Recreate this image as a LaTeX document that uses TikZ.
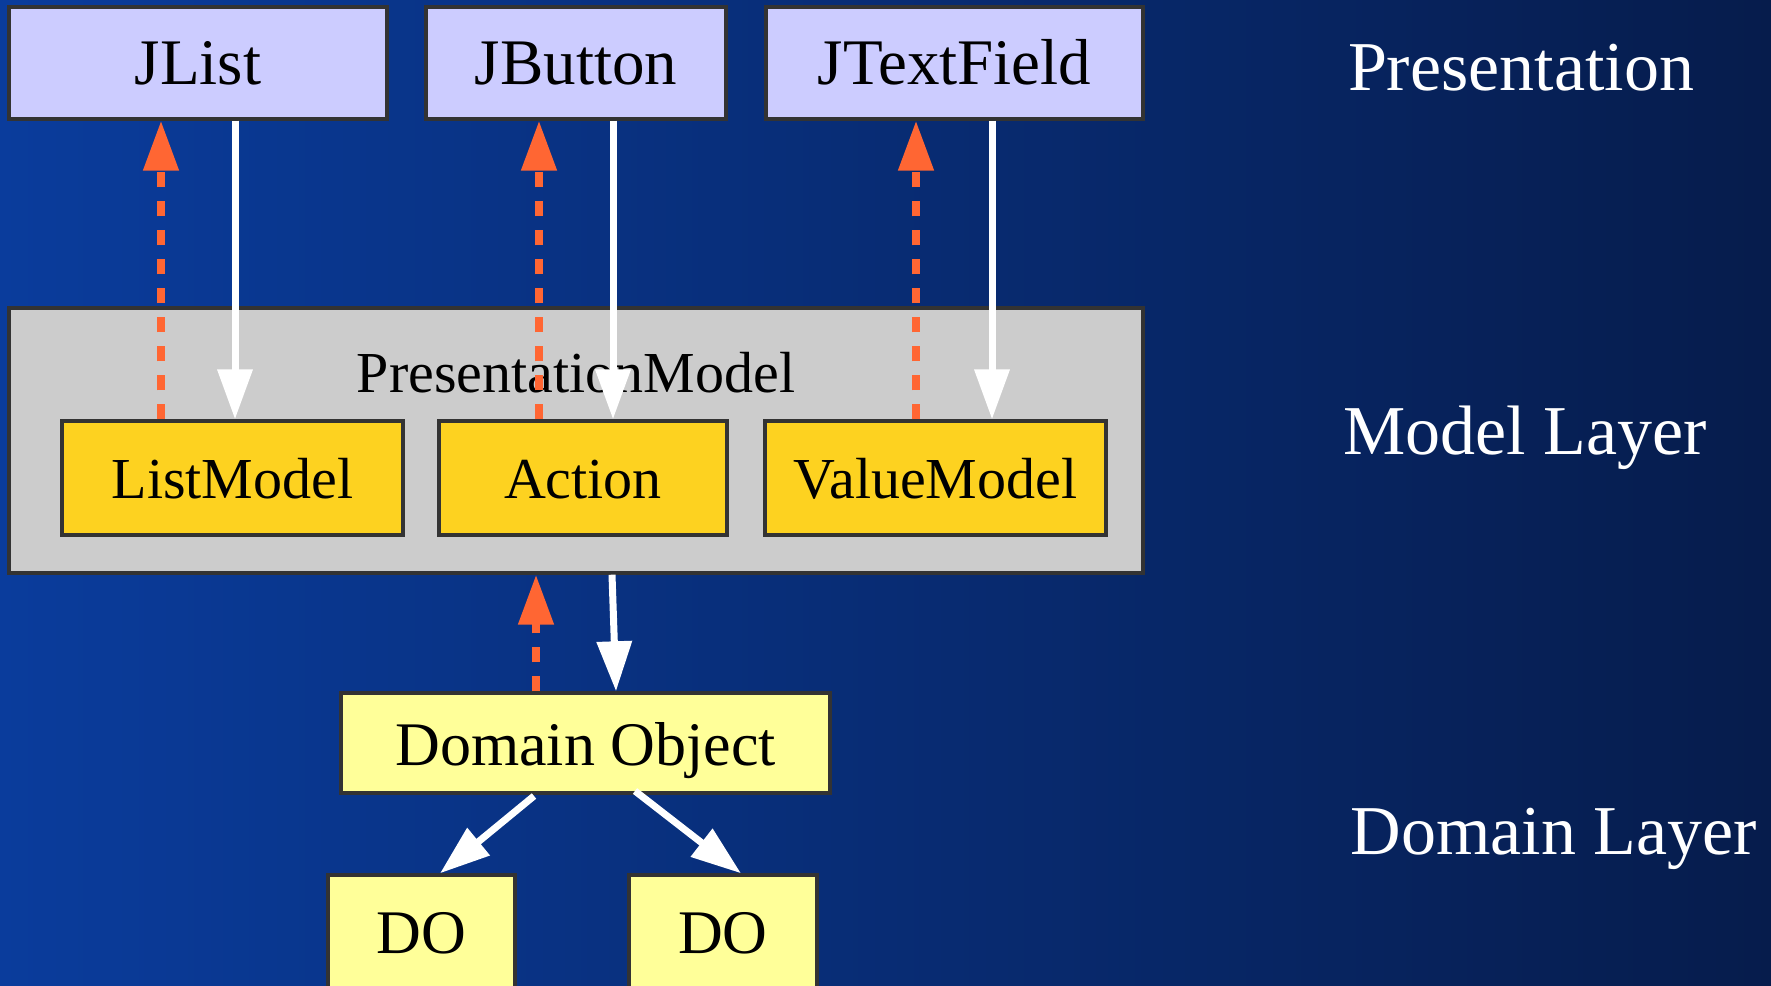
\documentclass[tikz,border=0pt]{standalone}
\usepackage{fontspec}
\setmainfont{Liberation Serif}
\usetikzlibrary{arrows.meta}
\definecolor{bgleft}{HTML}{0A3C9C}
\definecolor{bgright}{HTML}{061C4C}
\definecolor{boxline}{HTML}{333333}
\definecolor{swingfill}{HTML}{CCCCFF}
\definecolor{modelfill}{HTML}{FDD220}
\definecolor{domainfill}{HTML}{FFFF99}
\definecolor{pmfill}{HTML}{CCCCCC}
\definecolor{notify}{HTML}{FF6633}
\tikzset{
  basebox/.style={draw=boxline, line width=1.7pt, rectangle, inner sep=0pt, text=black, text depth=0pt},
  swingbox/.style={basebox, fill=swingfill, minimum height=56pt, text height=21.5pt, font=\fontsize{32.5}{36}\selectfont},
  modelbox/.style={basebox, fill=modelfill, minimum width=170.5pt, minimum height=57pt, text height=20pt, font=\fontsize{29}{32}\selectfont},
  domainbox/.style={basebox, fill=domainfill, text height=22pt, font=\fontsize{31}{34}\selectfont},
  layerlabel/.style={text=white, anchor=base, font=\fontsize{35}{38}\selectfont},
  callarrow/.style={draw=white, line width=3.5pt, -{Triangle[length=25pt,width=17pt]}},
  notifyarrow/.style={draw=notify, line width=4pt, dash pattern=on 7.5pt off 7pt, -{Triangle[length=25pt,width=17pt,fill=notify]}}
}
\begin{document}
\begin{tikzpicture}[x=0.5pt,y=-0.5pt]
\useasboundingbox (0,0) rectangle (1771,985);
\shade[left color=bgleft, right color=bgright] (0,0) rectangle (1771,985);

% presentation layer
\node[swingbox, minimum width=189pt] (jlist) at (198,63) {JList};
\node[swingbox, minimum width=150pt] (jbutton) at (576,63) {JButton};
\node[swingbox, minimum width=188.5pt] (jtext) at (954.5,63) {JTextField};

% model layer
\node[basebox, fill=pmfill, minimum width=567pt, minimum height=132.5pt] (pm) at (576,440.5) {};
\node[font=\fontsize{29}{32}\selectfont, text=black] (pmlabel) at (576,373) {PresentationModel};
\node[modelbox] (listmodel) at (232.5,478) {ListModel};
\node[modelbox, minimum width=144pt] (action) at (583,478) {Action};
\node[modelbox] (valuemodel) at (935.5,478) {ValueModel};

% domain layer
\node[domainbox, minimum width=244.5pt, minimum height=50pt] (domain) at (585.5,743) {Domain Object};
\node[domainbox, minimum width=93.5pt, minimum height=58pt, text height=20pt] (dol) at (421.5,933) {DO};
\node[domainbox, minimum width=94pt, minimum height=58pt, text height=20pt] (dor) at (723,933) {DO};

% layer labels
\node[layerlabel] (lpres) at (1521,90) {Presentation};
\node[layerlabel] (lmodel) at (1525,454) {Model Layer};
\node[layerlabel] (ldomain) at (1554,854) {Domain Layer};

% x positions of connectors
\coordinate (x1) at (161,0);
\coordinate (x2) at (235,0);
\coordinate (x3) at (539,0);
\coordinate (x4) at (613,0);
\coordinate (x5) at (916,0);
\coordinate (x6) at (992,0);
\coordinate (x7) at (536,0);
\coordinate (x8) at (612,0);
\coordinate (x9) at (616,0);
\coordinate (d1) at (534,796);
\coordinate (d2) at (635,791);
\coordinate (x10) at (440,0);
\coordinate (x11) at (741,0);

% connectors between presentation and model layer
\draw[notifyarrow] (listmodel.north -| x1) -- (jlist.south -| x1);
\draw[callarrow] (jlist.south -| x2) -- (listmodel.north -| x2);
\draw[notifyarrow] (action.north -| x3) -- (jbutton.south -| x3);
\draw[callarrow] (jbutton.south -| x4) -- (action.north -| x4);
\draw[notifyarrow] (valuemodel.north -| x5) -- (jtext.south -| x5);
\draw[callarrow] (jtext.south -| x6) -- (valuemodel.north -| x6);

% connectors between model and domain layer
\draw[notifyarrow] (domain.north -| x7) -- (pm.south -| x7);
\draw[callarrow] (pm.south -| x8) -- (domain.north -| x9);

% domain object to DOs
\draw[callarrow] (d1) -- (dol.north -| x10);
\draw[callarrow] (d2) -- (dor.north -| x11);
\end{tikzpicture}
\end{document}
